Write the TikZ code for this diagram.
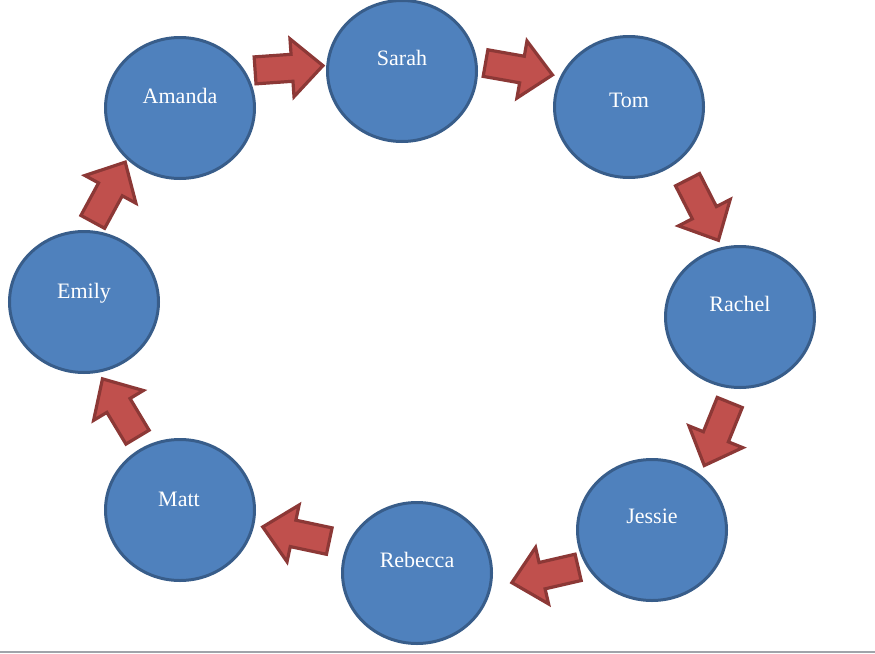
\documentclass[tikz,border=0pt]{standalone}
\usepackage{fontspec}
\setmainfont{Liberation Serif}
\usetikzlibrary{shapes.geometric}
\definecolor{cfill}{HTML}{4F81BD}
\definecolor{cline}{HTML}{385D8A}
\definecolor{afill}{HTML}{C0504D}
\definecolor{aline}{HTML}{8C3836}
\tikzset{
  person/.style={ellipse, draw=cline, fill=cfill, line width=3pt,
    minimum width=149pt, minimum height=141pt, inner sep=0pt},
  lbl/.style={text=white, font=\fontsize{22}{25}\selectfont, inner sep=0pt},
  blockarrow/.pic={
    \draw[draw=aline, fill=afill, line width=3.2pt, line join=miter]
      (-34,-13.5) -- (3,-13.5) -- (3,-29) -- (34,0) -- (3,29) -- (3,13.5) -- (-34,13.5) -- cycle;
  }
}
\begin{document}
\begin{tikzpicture}[x=1pt, y=-1pt]
\useasboundingbox (0,0) rectangle (875,653);
\clip (0,0) rectangle (875,653);
\draw[color={rgb,255:red,160;green,164;blue,170}, line width=1.5pt] (0,652) -- (875,652);

\node[person] (amanda)  at (180,108) {};
\node[person] (sarah)   at (402,71)  {};
\node[person] (tom)     at (629,107) {};
\node[person] (rachel)  at (740,317) {};
\node[person] (jessie)  at (652,530) {};
\node[person] (rebecca) at (417,573) {};
\node[person] (matt)    at (180,510) {};
\node[person] (emily)   at (84,302)  {};

\node[lbl] (tamanda)  at (180,96)  {Amanda};
\node[lbl] (tsarah)   at (402,58)  {Sarah};
\node[lbl] (ttom)     at (629,100) {Tom};
\node[lbl] (trachel)  at (740,304) {Rachel};
\node[lbl] (tjessie)  at (652,516) {Jessie};
\node[lbl] (trebecca) at (417,560) {Rebecca};
\node[lbl] (tmatt)    at (179,499) {Matt};
\node[lbl] (temily)   at (84,293)  {Emily};

\pic[shift={(289,68)}, rotate=4] {blockarrow};
\pic[shift={(519,69)}, rotate=-10] {blockarrow};
\pic[shift={(703,210)}, rotate=-63] {blockarrow};
\pic[shift={(717,434)}, rotate=-112] {blockarrow};
\pic[shift={(545,575)}, rotate=-167] {blockarrow};
\pic[shift={(296,534)}, rotate=-192] {blockarrow};
\pic[shift={(120,408)}, rotate=-239] {blockarrow};
\pic[shift={(109,192)}, rotate=-298.5] {blockarrow};
\end{tikzpicture}
\end{document}
